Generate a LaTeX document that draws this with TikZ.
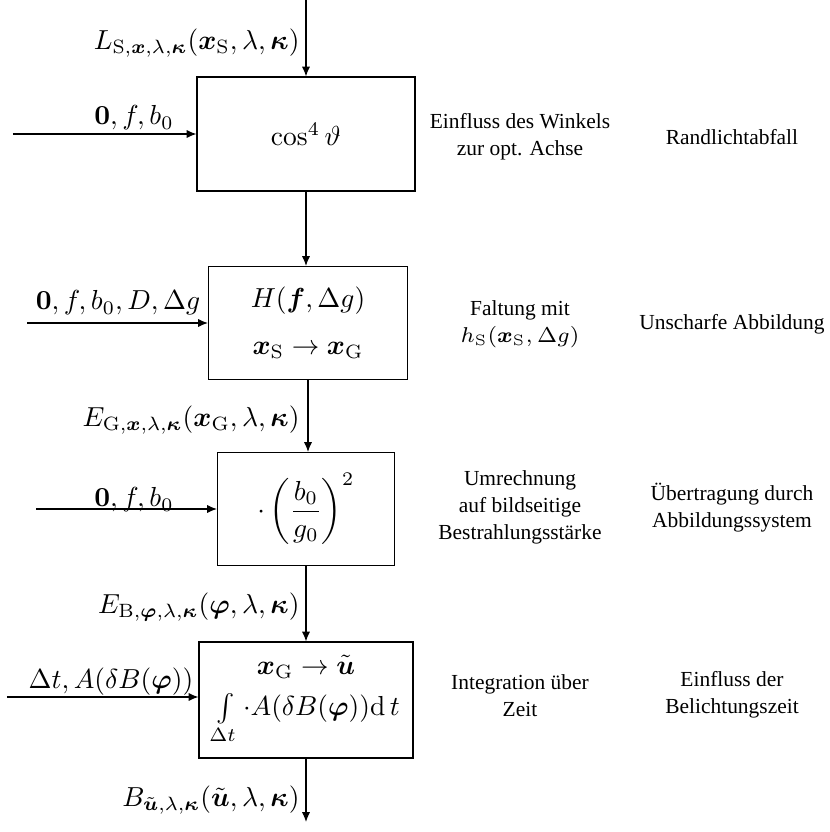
\documentclass[tikz,border=0pt]{standalone}
\usepackage{fix-cm}
\usepackage{amsmath}
\usepackage[no-math]{fontspec}
\newfontfamily\sidefont{Liberation Serif}
\usetikzlibrary{arrows.meta}

\begin{document}
\begin{tikzpicture}[x=0.3636pt,y=-0.3636pt,
  block/.style n args={2}{draw, line width=0.4pt, inner sep=0pt, align=center,
    minimum width=#1*0.3636pt, minimum height=#2*0.3636pt},
  flow/.style={-{Latex[length=3.6pt,width=3pt]}, line width=0.4pt},
  sig/.style={inner sep=0pt, anchor=east},
  param/.style={inner sep=0pt},
  side/.style={inner sep=0pt, align=center, font=\sidefont\fontsize{7.8}{9.8}\selectfont}]
  \useasboundingbox (0,0) rectangle (830,832);

  % processing blocks
  \node[block={218}{114}] (b1) at (306,134) {$\cos^4\vartheta$};
  \node[block={199}{113}] (b2) at (308,323)
    {$H(\boldsymbol{f},\Delta g)$\\[5pt]$\boldsymbol{x}_\mathrm{S}\rightarrow\boldsymbol{x}_\mathrm{G}$};
  \node[block={177}{113}] (b3) at (306,509)
    {$\displaystyle\cdot\left(\frac{b_0}{g_0}\right)^2$};
  \node[block={214}{116}] (b4) at (306,700)
    {$\boldsymbol{x}_\mathrm{G}\rightarrow\tilde{\boldsymbol{u}}$\\[3pt]
     $\int\limits_{\Delta t}\cdot A(\delta B(\boldsymbol{\varphi}))\mathrm{d}\,t$};

  % signal path
  \coordinate (in) at (306,0);
  \coordinate (out) at (306,822);
  \draw[flow] (in) -- (in |- b1.north);
  \draw[flow] (b1.south) -- (b1.south |- b2.north);
  \draw[flow] (b2.south) -- (b2.south |- b3.north);
  \draw[flow] (b3.south) -- (b3.south |- b4.north);
  \draw[flow] (b4.south) -- (b4.south |- out);

  % signal labels
  \node[sig] (lS) at (300,43)
    {$L_{\mathrm{S},\boldsymbol{x},\lambda,\boldsymbol{\kappa}}(\boldsymbol{x}_\mathrm{S},\lambda,\boldsymbol{\kappa})$};
  \node[sig] (lG) at (300,420)
    {$E_{\mathrm{G},\boldsymbol{x},\lambda,\boldsymbol{\kappa}}(\boldsymbol{x}_\mathrm{G},\lambda,\boldsymbol{\kappa})$};
  \node[sig] (lB) at (300,607)
    {$E_{\mathrm{B},\boldsymbol{\varphi},\lambda,\boldsymbol{\kappa}}(\boldsymbol{\varphi},\lambda,\boldsymbol{\kappa})$};
  \node[sig] (lU) at (300,800)
    {$B_{\tilde{\boldsymbol{u}},\lambda,\boldsymbol{\kappa}}(\tilde{\boldsymbol{u}},\lambda,\boldsymbol{\kappa})$};

  % parameter inputs
  \coordinate (i1) at (13,134);
  \coordinate (i2) at (27,323);
  \coordinate (i3) at (36,509);
  \coordinate (i4) at (7,697);
  \draw[flow] (i1) -- (i1 -| b1.west);
  \draw[flow] (i2) -- (i2 -| b2.west);
  \draw[flow] (i3) -- (i3 -| b3.west);
  \draw[flow] (i4) -- (i4 -| b4.west);
  \node[param] (p1) at (134,118) {$\mathbf{0},f,b_0$};
  \node[param] (p2) at (118,303) {$\mathbf{0},f,b_0,D,\Delta g$};
  \node[param] (p3) at (134,500) {$\mathbf{0},f,b_0$};
  \node[param] (p4) at (111,682) {$\Delta t, A(\delta B(\boldsymbol{\varphi}))$};

  % descriptions
  \node[side] (d1) at (520,137) {Einfluss des Winkels\\zur opt. Achse};
  \node[side] (e1) at (732,137) {Randlichtabfall};
  \node[side] (d2) at (520,324) {Faltung mit\\$h_\mathrm{S}(\boldsymbol{x}_\mathrm{S},\Delta g)$};
  \node[side] (e2) at (732,324) {Unscharfe Abbildung};
  \node[side] (d3) at (520,507) {Umrechnung\\auf bildseitige\\Bestrahlungsstärke};
  \node[side] (e3) at (732,508) {Übertragung durch\\Abbildungssystem};
  \node[side] (d4) at (520,696) {Integration über\\Zeit};
  \node[side] (e4) at (732,695) {Einfluss der\\Belichtungszeit};
\end{tikzpicture}
\end{document}
